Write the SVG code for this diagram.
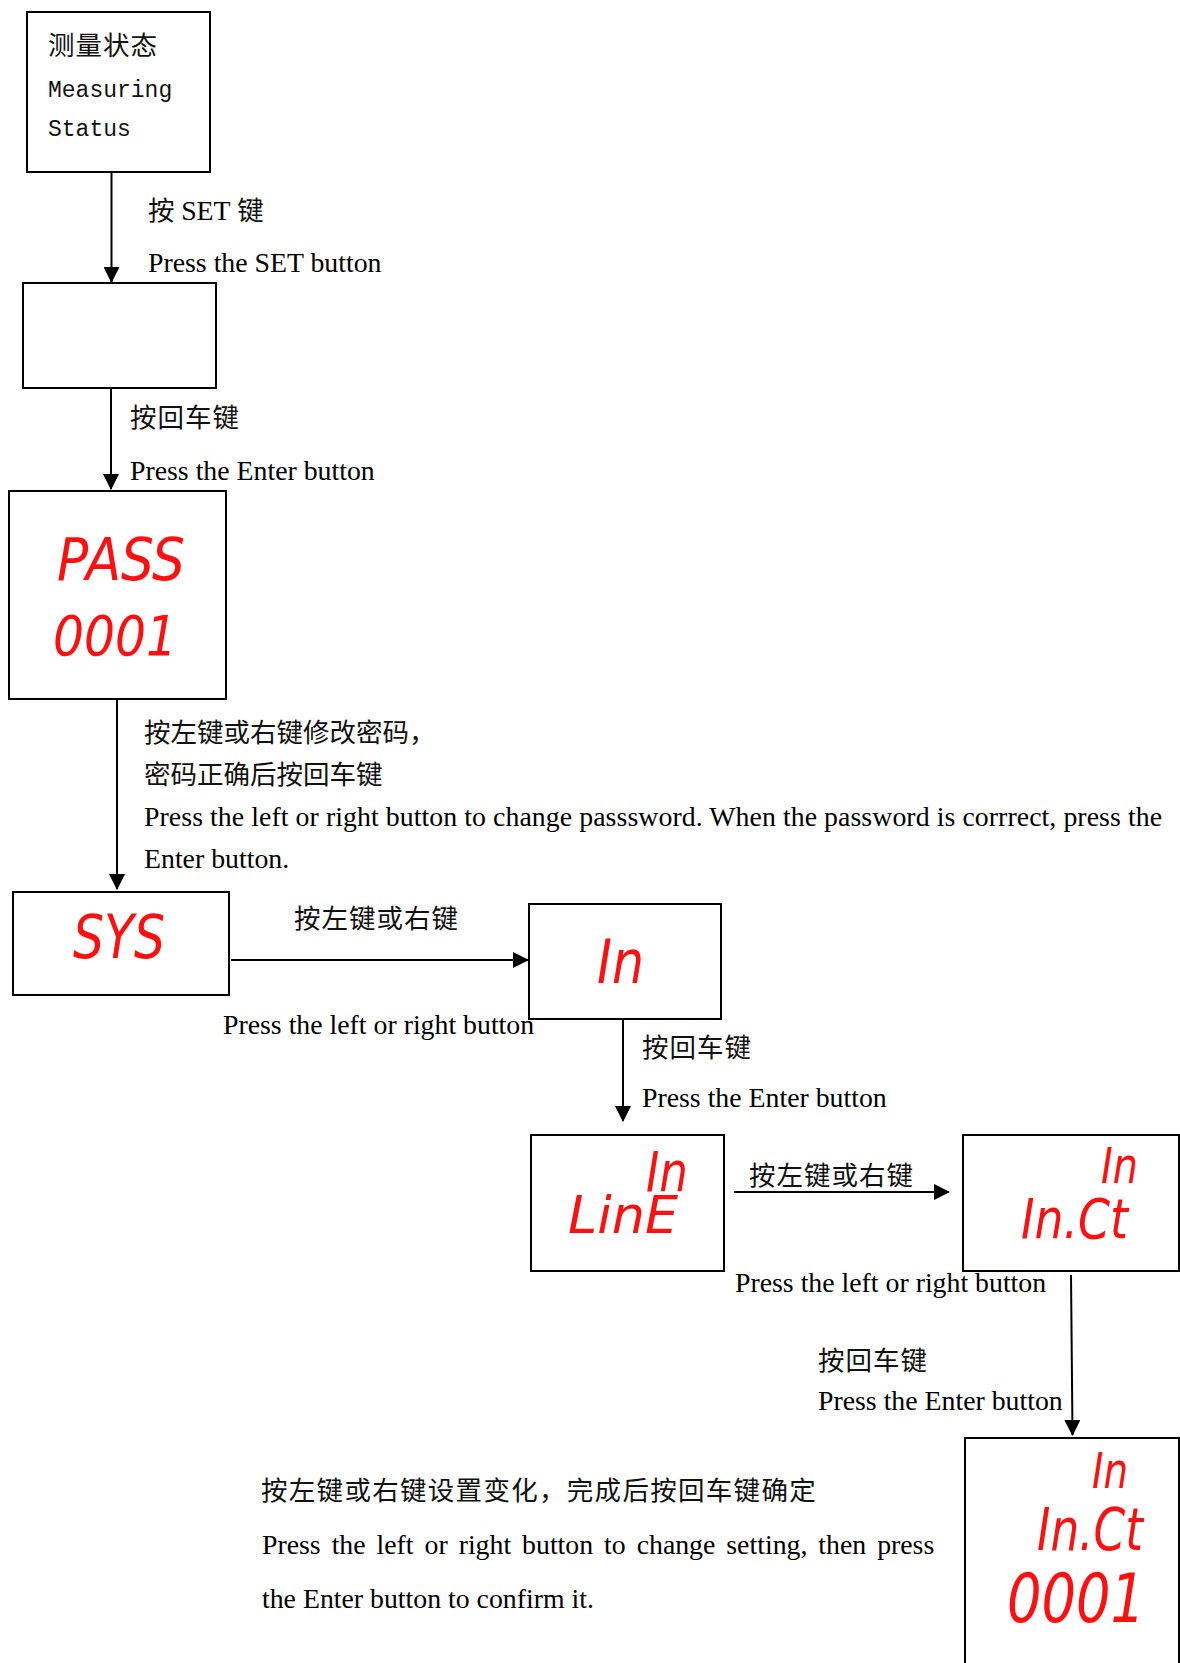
<svg xmlns="http://www.w3.org/2000/svg" width="1180" height="1663" viewBox="0 0 1180 1663">
<style>
.box{fill:#fff;stroke:#000;stroke-width:2}
.con{fill:none;stroke:#000;stroke-width:2}
.lbl{font-family:"Liberation Serif","Noto Sans CJK SC",serif;font-size:27.8px;fill:#000}
.cjk{font-family:"Liberation Serif","Noto Sans CJK SC",serif;font-size:26.5px;fill:#111}
.mono{font-family:"Liberation Mono","DejaVu Sans Mono",monospace;font-size:23px;fill:#111}
.led{font-family:"DejaVu Sans",sans-serif;font-style:oblique;fill:#ff1010}
</style>
<defs>
<marker id="arr" viewBox="0 0 16 16" refX="15" refY="8" markerWidth="16" markerHeight="16" markerUnits="userSpaceOnUse" orient="auto">
<path d="M0,0 L16,8 L0,16 z" fill="#000"/>
</marker>
</defs>
<rect width="1180" height="1663" fill="#fff"/>

<g id="connectors">
<line class="con" x1="111.5" y1="172" x2="111.5" y2="282" marker-end="url(#arr)"/>
<line class="con" x1="111" y1="388" x2="111" y2="489" marker-end="url(#arr)"/>
<line class="con" x1="117" y1="699" x2="117" y2="889" marker-end="url(#arr)"/>
<line class="con" x1="231" y1="960" x2="528" y2="960" marker-end="url(#arr)"/>
<line class="con" x1="623" y1="1019" x2="623" y2="1121" marker-end="url(#arr)"/>
<line class="con" x1="734" y1="1192" x2="949" y2="1192" marker-end="url(#arr)"/>
<line class="con" x1="1071" y1="1275" x2="1072.5" y2="1435" marker-end="url(#arr)"/>
</g>

<g id="labels">
<text class="cjk" x="148" y="220">按 <tspan class="lbl" font-size="26.5">SET</tspan> 键</text>
<text class="lbl" x="148" y="272" font-size="26.5">Press the SET button</text>
<text class="cjk" x="130" y="427" letter-spacing="1">按回车键</text>
<text class="lbl" x="130" y="480">Press the Enter button</text>
<text class="cjk" x="144" y="742">按左键或右键修改密码，</text>
<text class="cjk" x="144" y="784">密码正确后按回车键</text>
<text class="lbl" x="144" y="826" textLength="1018">Press the left or right button to change passsword. When the password is corrrect, press the</text>
<text class="lbl" x="144" y="868">Enter button.</text>
<text class="cjk" x="294" y="928" letter-spacing="1">按左键或右键</text>
<text class="lbl" x="223" y="1034">Press the left or right button</text>
<text class="cjk" x="642" y="1057" letter-spacing="1">按回车键</text>
<text class="lbl" x="642" y="1107">Press the Enter button</text>
<text class="cjk" x="749" y="1185" letter-spacing="1">按左键或右键</text>
<text class="lbl" x="735" y="1292">Press the left or right button</text>
<text class="cjk" x="818" y="1370" letter-spacing="1">按回车键</text>
<text class="lbl" x="818" y="1410">Press the Enter button</text>
<text class="cjk" x="261" y="1500" letter-spacing="1.3">按左键或右键设置变化，完成后按回车键确定</text>
<text class="lbl" x="262" y="1554" word-spacing="4">Press the left or right button to change setting, then press</text>
<text class="lbl" x="262" y="1608">the Enter button to confirm it.</text>
</g>

<g id="node-measuring">
<rect class="box" x="27" y="12" width="183" height="160"/>
<text class="cjk" x="48" y="55" letter-spacing="1">测量状态</text>
<text class="mono" x="48" y="97">Measuring</text>
<text class="mono" x="48" y="136">Status</text>
</g>

<g id="node-blank">
<rect class="box" x="23" y="283" width="193" height="105"/>
</g>

<g id="node-pass">
<rect class="box" x="9" y="491" width="217" height="208"/>
<text class="led" x="57" y="580" font-size="59" textLength="128" lengthAdjust="spacingAndGlyphs">PASS</text>
<text class="led" x="53" y="655" font-size="55" textLength="124" lengthAdjust="spacingAndGlyphs">0001</text>
</g>

<g id="node-sys">
<rect class="box" x="13" y="892" width="216" height="103"/>
<text class="led" x="73" y="958" font-size="60" textLength="92" lengthAdjust="spacingAndGlyphs">SYS</text>
</g>

<g id="node-in">
<rect class="box" x="529" y="904" width="192" height="115"/>
<text class="led" x="597" y="983" font-size="60" textLength="47" lengthAdjust="spacingAndGlyphs">In</text>
</g>

<g id="node-line">
<rect class="box" x="531" y="1135" width="193" height="136"/>
<text class="led" x="646" y="1191" font-size="56" textLength="42" lengthAdjust="spacingAndGlyphs">In</text>
<text class="led" x="568" y="1233" font-size="51" textLength="110" lengthAdjust="spacingAndGlyphs">LinE</text>
</g>

<g id="node-inct">
<rect class="box" x="963" y="1135" width="216" height="136"/>
<text class="led" x="1101" y="1183" font-size="49" textLength="37" lengthAdjust="spacingAndGlyphs">In</text>
<text class="led" x="1021" y="1238" font-size="55" textLength="107" lengthAdjust="spacingAndGlyphs">In.Ct</text>
</g>

<g id="node-inct-value">
<rect class="box" x="965" y="1438" width="214" height="240"/>
<text class="led" x="1092" y="1488" font-size="50" textLength="36" lengthAdjust="spacingAndGlyphs">In</text>
<text class="led" x="1037" y="1550" font-size="58" textLength="106" lengthAdjust="spacingAndGlyphs">In.Ct</text>
<text class="led" x="1007" y="1622" font-size="67" textLength="138" lengthAdjust="spacingAndGlyphs">0001</text>
</g>
</svg>
